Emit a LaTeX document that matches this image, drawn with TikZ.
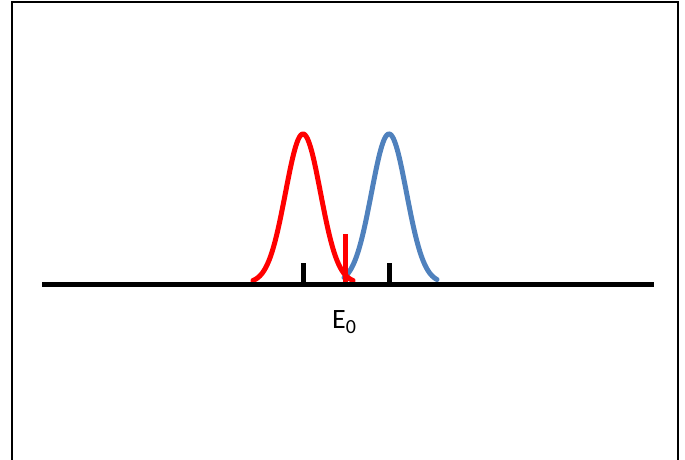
\documentclass[tikz,border=0pt]{standalone}
\usepackage{fontspec}
\setmainfont{Carlito}
\definecolor{curvered}{RGB}{255,0,0}
\definecolor{curveblue}{RGB}{79,129,189}
\tikzset{
  frame/.style={line width=2pt, black},
  axis/.style={line width=5pt, black},
  tickmark/.style={line width=5pt, black},
  curve/.style={line width=5pt, line join=round, line cap=round},
  marker/.style={line width=5pt, curvered},
}
\begin{document}
\begin{tikzpicture}[x=1pt, y=-1pt]
\useasboundingbox (0,0) rectangle (685,460);
\clip (0,0) rectangle (685,460);
% frame (bottom cut off)
\coordinate (fbl) at (12,470);
\coordinate (ftl) at (12,2);
\coordinate (ftr) at (678,2);
\coordinate (fbr) at (678,470);
\draw[frame] (fbl) -- (ftl) -- (ftr) -- (fbr);
% axis
\coordinate (axl) at (42,284);
\coordinate (axr) at (654,284);
% ticks
\coordinate (t1b) at (303,284);
\coordinate (t1t) at (303,263);
\coordinate (t2b) at (389,284);
\coordinate (t2t) at (389,263);
\draw[tickmark] (t1b) -- (t1t);
\draw[tickmark] (t2b) -- (t2t);
% blue curve
\draw[curve, curveblue] plot[domain=-45:48, samples=120, smooth] ({389+\x},{283-149*exp(-(\x*\x)/(2*17.5*17.5))});
% red curve
\draw[curve, curvered] plot[domain=-50:50, samples=120, smooth] ({303+\x},{283-149*exp(-(\x*\x)/(2*17.5*17.5))});
% red marker
\coordinate (mb) at (345,282);
\coordinate (mt) at (345,234);
\draw[marker] (mb) -- (mt);
\draw[axis] (axl) -- (axr);
% label
\node[inner sep=0pt, anchor=base west] (e0) at (332,328) {\fontsize{28}{32}\selectfont E\raisebox{-5.6pt}{\fontsize{20}{22}\selectfont 0}};
\end{tikzpicture}
\end{document}
